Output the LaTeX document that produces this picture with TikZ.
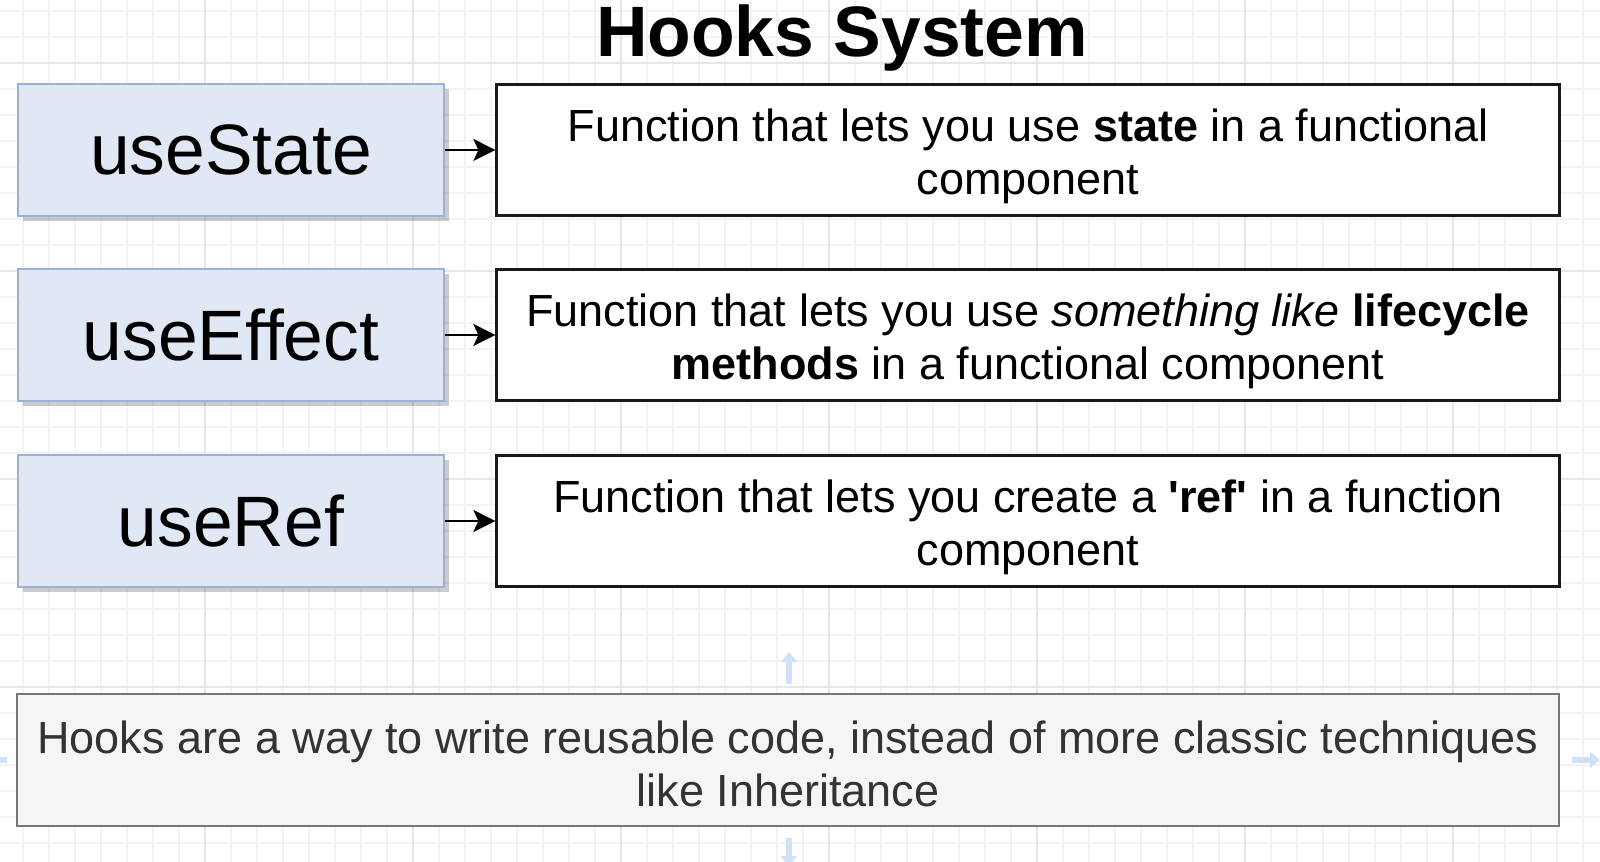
\documentclass[tikz,border=0pt]{standalone}
\usepackage{fontspec}
\setmainfont{Liberation Sans}[Ligatures=TeXOff]
\usetikzlibrary{arrows.meta, positioning, shadows}

\definecolor{hookfill}{HTML}{E0E8F6}
\definecolor{hookline}{HTML}{9CB1D6}
\definecolor{notefill}{HTML}{F5F5F5}
\definecolor{noteline}{HTML}{777777}
\definecolor{notetext}{HTML}{333333}
\definecolor{gridminor}{HTML}{F3F3F3}
\definecolor{gridmajor}{HTML}{E6E6E6}
\definecolor{hoverblue}{HTML}{CFE2F5}

% pushes a two-line text block down a little inside its box
\newcommand{\descdrop}[1]{\rule{0pt}{#1}}

\begin{document}
\begin{tikzpicture}[x=0.01cm, y=-0.01cm,
    hook/.style={draw=hookline, line width=0.6pt, fill=hookfill,
        minimum width=4.26cm, minimum height=1.32cm, inner sep=0pt,
        font=\fontsize{20.3}{24}\selectfont,
        drop shadow={shadow xshift=1.4pt, shadow yshift=-1.4pt, fill=black, opacity=0.2}},
    desc/.style={draw=black!90, line width=0.75pt, fill=white,
        minimum width=10.62cm, minimum height=1.31cm, inner sep=0pt, align=center,
        font=\fontsize{12.8}{15.1}\selectfont},
    note/.style={draw=noteline, line width=0.8pt, fill=notefill, text=notetext,
        minimum width=15.41cm, minimum height=1.32cm, inner sep=0pt, align=center,
        font=\fontsize{12.8}{15.1}\selectfont},
    link/.style={line width=0.6pt, -{Stealth[length=0.22cm, width=0.22cm, inset=0.05cm]}},
    hover/.style={hoverblue, line width=1.6pt, -{Triangle[length=0.1cm, width=0.16cm]}}
]
    % Canvas and grid
    \fill[white] (0,0) rectangle (1600,862);
    \useasboundingbox (0,0) rectangle (1600,862);
    \foreach \x in {-3,23,...,1600} {
        \draw[gridminor, line width=0.3pt] (\x,0) -- (\x,862);
    }
    \foreach \y in {11,37,...,862} {
        \draw[gridminor, line width=0.3pt] (0,\y) -- (1600,\y);
    }
    \foreach \x in {-3,205,...,1600} {
        \draw[gridmajor, line width=0.3pt] (\x,0) -- (\x,862);
    }
    \foreach \y in {63,271,...,862} {
        \draw[gridmajor, line width=0.3pt] (0,\y) -- (1600,\y);
    }

    % Title
    \node[anchor=base, font=\fontsize{20.3}{24}\selectfont\bfseries] (title) at (842,57) {Hooks System};

    % Hooks
    \node[hook] (state) at (231,150) {useState};
    \node[hook] (effect) at (231,335) {useEffect};
    \node[hook] (ref) at (231,521) {useRef};

    % Descriptions
    \node[desc] (stateDesc) at (1028,150)
        {\descdrop{12.7pt}Function that lets you use \textbf{state} in a functional\\component};
    \node[desc] (effectDesc) at (1028,335)
        {\descdrop{12.7pt}Function that lets you use \textit{something like} \textbf{lifecycle}\\\textbf{methods} in a functional component};
    \node[desc] (refDesc) at (1028,521)
        {\descdrop{12.7pt}Function that lets you create a \textbf{'ref'} in a function\\component};

    \draw[link] (state) -- (stateDesc);
    \draw[link] (effect) -- (effectDesc);
    \draw[link] (ref) -- (refDesc);

    % Summary
    \node[note] (summary) at (788,760)
        {\descdrop{11.6pt}Hooks are a way to write reusable code, instead of more classic techniques\\like Inheritance};

    % Hover handles
    \coordinate (hUp) at (789,652);
    \coordinate (hDown) at (789,866);
    \coordinate (hRight) at (1600,760);
    \draw[hover] (789,684) -- (hUp);
    \draw[hover] (789,838) -- (hDown);
    \draw[hover] (1572,760) -- (hRight);
    \draw[hoverblue, line width=1.6pt] (0,760) -- (7,760);
\end{tikzpicture}
\end{document}
